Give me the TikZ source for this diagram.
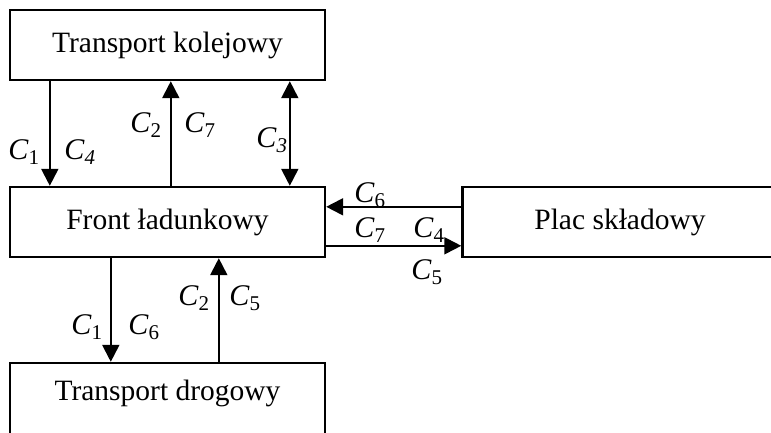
\documentclass[tikz,border=0pt]{standalone}
\usepackage{fontspec}
\setmainfont{Liberation Serif}
\usetikzlibrary{arrows.meta}
\newcommand{\Cu}[1]{\textit{C}\textsubscript{#1}}
\newcommand{\Ci}[1]{\textit{C\textsubscript{#1}}}
\begin{document}
\begin{tikzpicture}[x=1pt,y=-1pt,
  box/.style={draw,line width=2.4pt,minimum width=315pt,minimum height=70pt,inner sep=0pt,font=\fontsize{29.5}{32}\selectfont},
  arr/.style={line width=2pt,-{Triangle[width=17pt,length=17pt]}},
  darr/.style={line width=2pt,{Triangle[width=17pt,length=17pt]}-{Triangle[width=17pt,length=17pt]}},
  lab/.style={font=\fontsize{30}{32}\selectfont,inner sep=0pt}]
\useasboundingbox (0,0) rectangle (771,432);
\clip (0,0) rectangle (771,432);
% blocks
\node[box] (tk) at (167.5,45) {Transport kolejowy};
\node[box] (fl) at (167.5,222) {Front ładunkowy};
\node[box,minimum height=100pt] (td) at (167.5,413) {\raisebox{20pt}[\height][\depth]{Transport drogowy}};
\node[box] (ps) at (620,222) {Plac składowy};
% rail <-> front
\draw[arr] ([xshift=41pt]tk.south west) -- ([xshift=41pt]fl.north west);
\draw[arr] ([xshift=162pt]fl.north west) -- ([xshift=162pt]tk.south west);
\draw[darr] ([xshift=281pt]tk.south west) -- ([xshift=281pt]fl.north west);
% front <-> road
\draw[arr] ([xshift=102pt]fl.south west) -- ([xshift=102pt]td.north west);
\draw[arr] ([xshift=210pt]td.north west) -- ([xshift=210pt]fl.south west);
% front <-> storage yard
\draw[arr] ([yshift=-21pt]ps.north west) -- ([yshift=-21pt]fl.north east);
\draw[arr] ([yshift=-60pt]fl.north east) -- ([yshift=-60pt]ps.north west);
% labels
\node[lab] at (24,152) {\Cu{1}};
\node[lab] at (80,152) {\Ci{4}};
\node[lab] at (146,125) {\Cu{2}};
\node[lab] at (200,125) {\Cu{7}};
\node[lab] at (272,140) {\Ci{3}};
\node[lab] at (87,327) {\Cu{1}};
\node[lab] at (144,327) {\Cu{6}};
\node[lab] at (194,298) {\Cu{2}};
\node[lab] at (245,298) {\Cu{5}};
\node[lab] at (370,195) {\Cu{6}};
\node[lab] at (370,230) {\Cu{7}};
\node[lab] at (429,230) {\Cu{4}};
\node[lab] at (427,272) {\Cu{5}};
\end{tikzpicture}
\end{document}
